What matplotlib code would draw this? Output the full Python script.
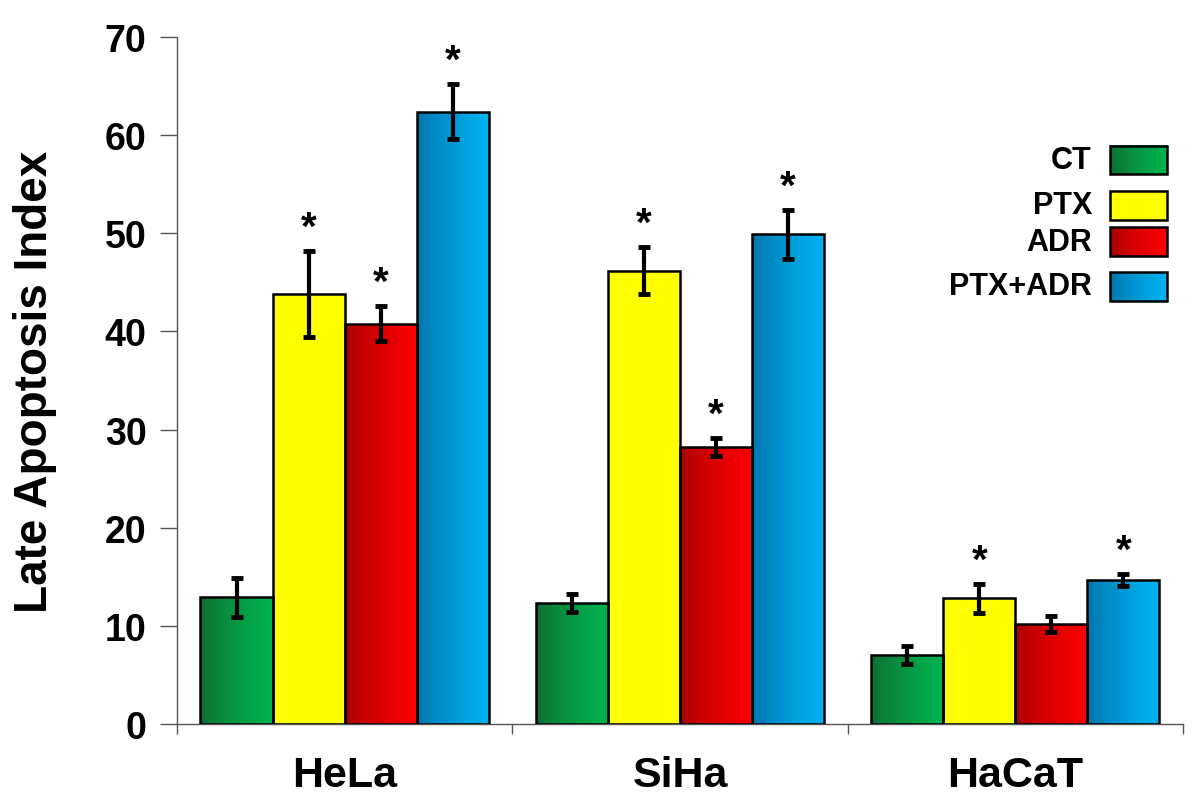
import numpy as np
import matplotlib
matplotlib.use('Agg')
import matplotlib.pyplot as plt
from matplotlib.patches import Rectangle
from matplotlib.colors import LinearSegmentedColormap

plt.rcParams['font.family'] = ['Liberation Sans', 'DejaVu Sans']
plt.rcParams['font.weight'] = 'bold'

# Data
cells = ['HeLa', 'SiHa', 'HaCaT']
treatments = ['CT', 'PTX', 'ADR', 'PTX+ADR']
values = {
    'CT':      [12.9, 12.3, 7.0],
    'PTX':     [43.8, 46.2, 12.8],
    'ADR':     [40.8, 28.2, 10.2],
    'PTX+ADR': [62.4, 49.9, 14.7],
}
errors = {
    'CT':      [2.0, 0.9, 0.9],
    'PTX':     [4.4, 2.4, 1.5],
    'ADR':     [1.8, 0.9, 0.8],
    'PTX+ADR': [2.8, 2.5, 0.6],
}
significant = {
    'CT':      [False, False, False],
    'PTX':     [True, True, True],
    'ADR':     [True, True, False],
    'PTX+ADR': [True, True, True],
}

# left (dark) -> right (bright) gradient colours
grad = {
    'CT':      ('#0f6a2e', '#00b450'),
    'PTX':     ('#ffff00', '#ffff00'),
    'ADR':     ('#a30000', '#ff0000'),
    'PTX+ADR': ('#0070a8', '#00b4f4'),
}

fig = plt.figure(figsize=(12, 8.04), dpi=100)
ax = fig.add_axes([0.1475, 0.0983, 0.8383, 0.8544])

x = np.arange(len(cells))
width = 0.215
ramp = np.linspace(0, 1, 256) ** 0.7
ramp = ramp.reshape(1, -1)

for i, t in enumerate(treatments):
    cmap = LinearSegmentedColormap.from_list(t, grad[t])
    xs = x + (i - 1.5) * width
    bars = ax.bar(xs, values[t], width, facecolor='none', edgecolor='black',
                  linewidth=1.8, zorder=3)
    for b in bars:
        x0, w, h = b.get_x(), b.get_width(), b.get_height()
        im = ax.imshow(ramp, cmap=cmap, aspect='auto', extent=[x0, x0 + w, 0, h],
                       zorder=2, vmin=0, vmax=1)
        im.set_clip_path(b)
    ax.errorbar(xs, values[t], yerr=errors[t], fmt='none', ecolor='black',
                elinewidth=3, capsize=4, capthick=3.5, zorder=4)
    for j in range(len(cells)):
        if significant[t][j]:
            ax.annotate('*', (xs[j], values[t][j] + errors[t][j]),
                        xytext=(0, 3), textcoords='offset points',
                        ha='center', va='bottom', fontsize=29, fontweight='bold')

ax.set_xlim(-0.5, 2.5)
ax.set_ylim(0, 70)
ax.set_yticks(range(0, 71, 10))
ax.set_xticks([-0.5, 0.5, 1.5, 2.5])
ax.set_xticklabels([])
ax.set_xticks(x, minor=True)
ax.set_xticklabels(cells, minor=True, fontsize=31, fontweight='bold')
ax.tick_params(axis='x', which='minor', length=0, pad=22)
ax.tick_params(axis='x', which='major', length=7, width=1, color='#555555', direction='out')
ax.tick_params(axis='y', length=12, width=1, color='#555555', direction='out',
               labelsize=27, pad=10)
for lab in ax.get_yticklabels():
    lab.set_fontweight('bold')

for s in ['top', 'right']:
    ax.spines[s].set_visible(False)
for s in ['left', 'bottom']:
    ax.spines[s].set_color('#555555')
    ax.spines[s].set_linewidth(1)

ax.set_ylabel('Late Apoptosis Index', fontsize=33, fontweight='bold', labelpad=34)

# Legend (manual, to keep gradient swatches)
row_y = [0.821, 0.755, 0.702, 0.637]
for t, ry in zip(treatments, row_y):
    cmap = LinearSegmentedColormap.from_list(t + '_leg', grad[t])
    bx0, bw, bh = 0.927, 0.0567, 0.042
    rect = Rectangle((bx0, ry - bh / 2), bw, bh, transform=ax.transAxes,
                     facecolor='none', edgecolor='black', linewidth=1.8, zorder=6)
    ax.add_patch(rect)
    im = ax.imshow(ramp, cmap=cmap, aspect='auto', transform=ax.transAxes,
                   extent=[bx0, bx0 + bw, ry - bh / 2, ry + bh / 2], zorder=5,
                   vmin=0, vmax=1)
    ax.text(0.9095, ry, t, transform=ax.transAxes, ha='right', va='center',
            fontsize=22, fontweight='bold')

ax.set_xlim(-0.5, 2.5)
ax.set_ylim(0, 70)

fig.savefig('out.png', dpi=100)
